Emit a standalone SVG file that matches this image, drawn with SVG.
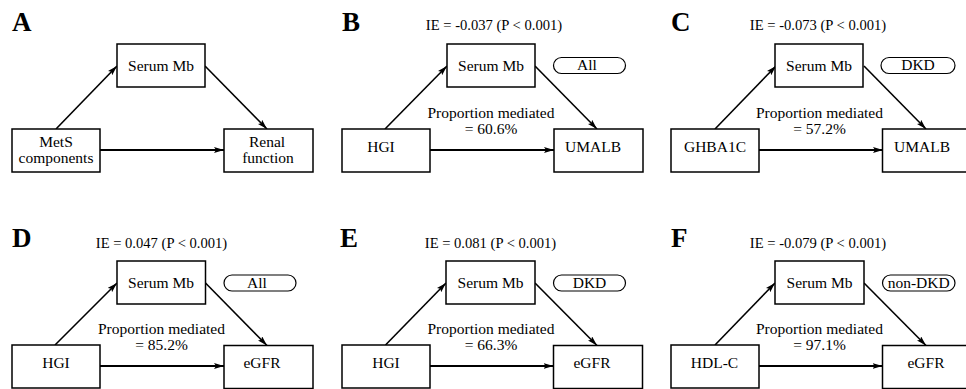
<svg xmlns="http://www.w3.org/2000/svg" width="966" height="389" viewBox="0 0 966 389">
<defs>
<style>
text{font-family:'Liberation Serif','Times New Roman',Times,'DejaVu Serif',serif;fill:#000}
.box{fill:#fff;stroke:#000;stroke-width:1.5}
.pill{fill:#fff;stroke:#000;stroke-width:1.2}
.t{font-size:15.5px;text-anchor:middle}
.ie{font-size:14.6px;text-anchor:middle}
.lab{font-size:27px;font-weight:bold}
.d{stroke:#000;stroke-width:1.6;fill:none;marker-end:url(#ah)}
.h{stroke:#000;stroke-width:2.2;fill:none;marker-end:url(#ah)}
</style>
<marker id="ah" markerUnits="userSpaceOnUse" viewBox="0 0 10 6" refX="10" refY="3" markerWidth="10" markerHeight="6" orient="auto">
<path d="M0,0 L10,3 L0,6 L2,3 Z" fill="#000"/>
</marker>
</defs>
<rect width="966" height="389" fill="#fff"/>

<!-- Panel A -->
<g id="panelA" font-family="Liberation Serif, serif">
<text class="lab" x="12" y="31">A</text>
<g id="A-connectors">
<line class="d" x1="56" y1="129" x2="117" y2="66"/>
<line class="d" x1="205" y1="66" x2="267" y2="129"/>
<line class="h" x1="100" y1="150" x2="224" y2="150"/>
</g>
<g id="A-serum"><rect class="box" x="117" y="44" width="88" height="43"/><text class="t" x="161" y="71">Serum Mb</text></g>
<g id="A-mets"><rect class="box" x="12" y="129" width="88" height="43"/><text class="t" x="56" y="147">MetS</text><text class="t" x="56" y="162.5">components</text></g>
<g id="A-renal"><rect class="box" x="224" y="129" width="89" height="43"/><text class="t" x="267" y="147">Renal</text><text class="t" x="268" y="162.5">function</text></g>
</g>

<!-- Panel B -->
<g id="panelB" transform="translate(330,0)">
<text class="lab" x="12" y="31">B</text>
<text class="ie" x="164" y="30">IE = -0.037 (P &lt; 0.001)</text>
<text class="t" x="161" y="118">Proportion mediated</text>
<text class="t" x="161" y="133.5">= 60.6%</text>
<g id="B-connectors">
<line class="d" x1="55" y1="129" x2="117" y2="66"/>
<line class="d" x1="205" y1="66" x2="267" y2="129"/>
<line class="h" x1="100" y1="150" x2="224" y2="150"/>
</g>
<g id="B-serum"><rect class="box" x="117" y="44" width="88" height="43"/><text class="t" x="161" y="71">Serum Mb</text></g>
<g id="B-pill"><rect class="pill" x="223.5" y="57.5" width="72" height="16" rx="8"/><text class="t" x="257" y="70">All</text></g>
<g id="B-hgi"><rect class="box" x="12" y="129" width="88" height="43"/><text class="t" x="51" y="151.5">HGI</text></g>
<g id="B-umalb"><rect class="box" x="224" y="129" width="89" height="43"/><text class="t" x="263" y="151.5">UMALB</text></g>
</g>

<!-- Panel C -->
<g id="panelC" transform="translate(659,0)">
<text class="lab" x="12" y="31">C</text>
<text class="ie" x="159" y="30">IE = -0.073 (P &lt; 0.001)</text>
<text class="t" x="160.5" y="118">Proportion mediated</text>
<text class="t" x="160.5" y="133.5">= 57.2%</text>
<g id="C-connectors">
<line class="d" x1="56" y1="129" x2="117" y2="66"/>
<line class="d" x1="205" y1="66" x2="267" y2="129"/>
<line class="h" x1="100" y1="150" x2="224" y2="150"/>
</g>
<g id="C-serum"><rect class="box" x="116" y="44" width="88" height="43"/><text class="t" x="160" y="71">Serum Mb</text></g>
<g id="C-pill"><rect class="pill" x="222" y="57.5" width="74" height="16" rx="8"/><text class="t" x="259" y="70">DKD</text></g>
<g id="C-ghba1c"><rect class="box" x="12" y="129" width="88" height="43"/><text class="t" x="56" y="151.5">GHBA1C</text></g>
<g id="C-umalb"><rect class="box" x="223.5" y="129" width="89" height="43"/><text class="t" x="263" y="151.5">UMALB</text></g>
</g>

<!-- Panel D -->
<g id="panelD" transform="translate(0,216)">
<text class="lab" x="12" y="31">D</text>
<text class="ie" x="161.5" y="31.5">IE = 0.047 (P &lt; 0.001)</text>
<text class="t" x="161.5" y="118">Proportion mediated</text>
<text class="t" x="161.5" y="133.5">= 85.2%</text>
<g id="D-connectors">
<line class="d" x1="55" y1="129" x2="117" y2="67"/>
<line class="d" x1="205.5" y1="67" x2="267" y2="129.5"/>
<line class="h" x1="100" y1="150" x2="224" y2="150"/>
</g>
<g id="D-serum"><rect class="box" x="117" y="45" width="88.5" height="43"/><text class="t" x="161" y="72">Serum Mb</text></g>
<g id="D-pill"><rect class="pill" x="224" y="59" width="72" height="16" rx="8"/><text class="t" x="257" y="71.5">All</text></g>
<g id="D-hgi"><rect class="box" x="12" y="129" width="88" height="43"/><text class="t" x="56" y="151.5">HGI</text></g>
<g id="D-egfr"><rect class="box" x="224" y="129.5" width="89" height="43"/><text class="t" x="262" y="151.5">eGFR</text></g>
</g>

<!-- Panel E -->
<g id="panelE" transform="translate(330,216)">
<text class="lab" x="10" y="31">E</text>
<text class="ie" x="160.5" y="31.5">IE = 0.081 (P &lt; 0.001)</text>
<text class="t" x="161" y="118">Proportion mediated</text>
<text class="t" x="161" y="133.5">= 66.3%</text>
<g id="E-connectors">
<line class="d" x1="55.5" y1="129" x2="116" y2="67"/>
<line class="d" x1="205" y1="67" x2="267" y2="129.5"/>
<line class="h" x1="100" y1="150" x2="223.5" y2="150"/>
</g>
<g id="E-serum"><rect class="box" x="116" y="45" width="89" height="43"/><text class="t" x="160.5" y="72">Serum Mb</text></g>
<g id="E-pill"><rect class="pill" x="223.5" y="59" width="72" height="16" rx="8"/><text class="t" x="259.5" y="71.5">DKD</text></g>
<g id="E-hgi"><rect class="box" x="12" y="129" width="88" height="43"/><text class="t" x="56" y="151.5">HGI</text></g>
<g id="E-egfr"><rect class="box" x="223.5" y="129.5" width="89" height="43"/><text class="t" x="262" y="151.5">eGFR</text></g>
</g>

<!-- Panel F -->
<g id="panelF" transform="translate(659,216)">
<text class="lab" x="12" y="31">F</text>
<text class="ie" x="159" y="31.5">IE = -0.079 (P &lt; 0.001)</text>
<text class="t" x="160.5" y="118">Proportion mediated</text>
<text class="t" x="160.5" y="133.5">= 97.1%</text>
<g id="F-connectors">
<line class="d" x1="56" y1="129" x2="116" y2="67"/>
<line class="d" x1="205" y1="67" x2="267" y2="129.5"/>
<line class="h" x1="100" y1="150" x2="223.5" y2="150"/>
</g>
<g id="F-serum"><rect class="box" x="116" y="45" width="89" height="43"/><text class="t" x="160.5" y="72">Serum Mb</text></g>
<g id="F-pill"><rect class="pill" x="223.5" y="59" width="72.5" height="16" rx="8"/><text class="t" x="259.7" y="71.5">non-DKD</text></g>
<g id="F-hdlc"><rect class="box" x="12" y="129" width="88" height="43"/><text class="t" x="55.5" y="151.5">HDL-C</text></g>
<g id="F-egfr"><rect class="box" x="223.5" y="129.5" width="89" height="43"/><text class="t" x="267" y="151.5">eGFR</text></g>
</g>
</svg>
